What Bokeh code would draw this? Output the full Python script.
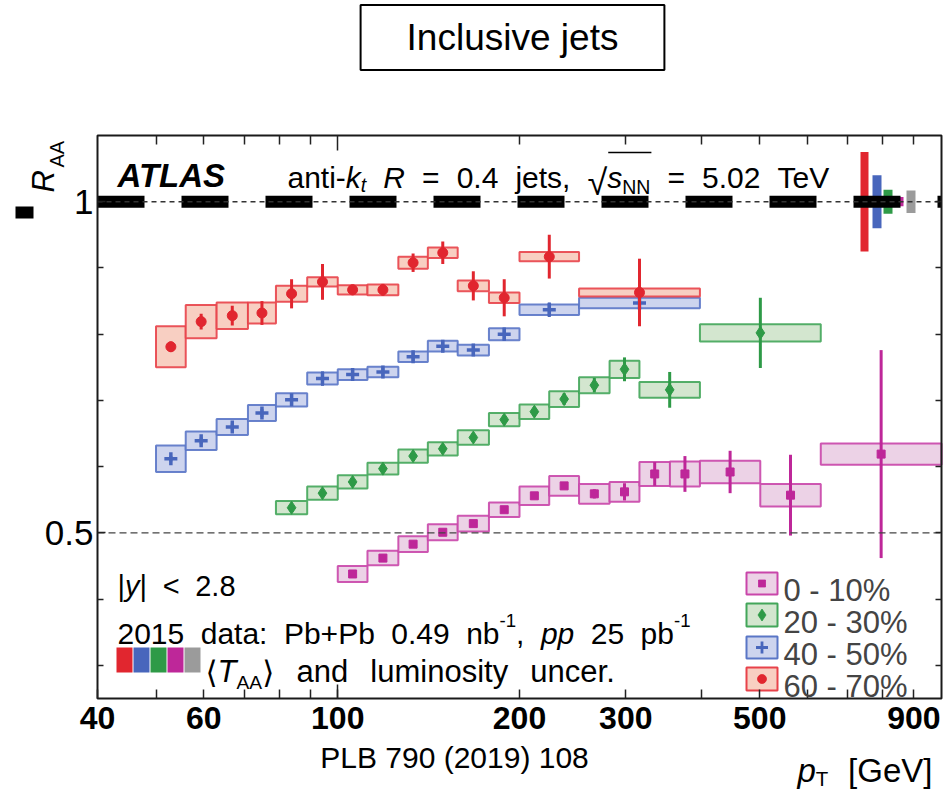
import numpy as np
from bokeh.plotting import figure
from bokeh.models import Range1d, FixedTicker, LogAxis, LinearAxis, Label, PrintfTickFormatter
from bokeh.embed import file_html
from bokeh.resources import INLINE

# ---------------- data ----------------
cent_labels = ["0 - 10%", "20 - 30%", "40 - 50%", "60 - 70%"]

edges_0_10 = [100, 112, 126, 141, 158, 178, 200, 224, 251, 282, 316, 355, 398, 501, 631, 1000]
raa_0_10 = [0.438, 0.462, 0.483, 0.501, 0.514, 0.535, 0.556, 0.571, 0.559, 0.562, 0.589, 0.589, 0.592, 0.557, 0.619]
stat_0_10 = [0.003, 0.003, 0.003, 0.003, 0.003, 0.003, 0.003, 0.004, 0.007, 0.013, 0.018, 0.027, 0.032, 0.061, 0.157]
sys_0_10 = [0.012, 0.011, 0.012, 0.012, 0.012, 0.011, 0.014, 0.015, 0.015, 0.015, 0.018, 0.019, 0.017, 0.017, 0.016]

edges_20_30 = [79, 89, 100, 112, 126, 141, 158, 178, 200, 224, 251, 282, 316, 398, 631]
raa_20_30 = [0.538, 0.560, 0.577, 0.597, 0.616, 0.627, 0.644, 0.671, 0.683, 0.702, 0.723, 0.747, 0.716, 0.802]
stat_20_30 = [0.004, 0.004, 0.004, 0.004, 0.004, 0.005, 0.005, 0.006, 0.007, 0.009, 0.011, 0.018, 0.027, 0.053]
sys_20_30 = [0.010, 0.010, 0.010, 0.009, 0.010, 0.010, 0.011, 0.010, 0.011, 0.012, 0.012, 0.013, 0.012, 0.013]

edges_40_50 = [50, 56, 63, 71, 79, 89, 100, 112, 126, 141, 158, 178, 200, 251, 398]
raa_40_50 = [0.612, 0.639, 0.660, 0.681, 0.701, 0.733, 0.739, 0.743, 0.766, 0.782, 0.776, 0.800, 0.837, 0.847]
stat_40_50 = [0.004, 0.005, 0.005, 0.006, 0.008, 0.011, 0.007, 0.007, 0.007, 0.008, 0.008, 0.010, 0.011, 0.006]
sys_40_50 = [0.020, 0.014, 0.012, 0.012, 0.010, 0.009, 0.008, 0.008, 0.008, 0.008, 0.008, 0.009, 0.008, 0.008]

edges_60_70 = [50, 56, 63, 71, 79, 89, 100, 112, 126, 141, 158, 178, 200, 251, 398]
raa_60_70 = [0.781, 0.819, 0.828, 0.832, 0.861, 0.879, 0.867, 0.867, 0.908, 0.923, 0.873, 0.855, 0.917, 0.863]
stat_60_70 = [0.008, 0.012, 0.015, 0.018, 0.022, 0.027, 0.008, 0.009, 0.014, 0.017, 0.022, 0.028, 0.033, 0.051]
sys_60_70 = [0.031, 0.025, 0.020, 0.016, 0.012, 0.007, 0.007, 0.008, 0.009, 0.008, 0.008, 0.008, 0.007, 0.006]

# <T_AA> and luminosity normalisation uncertainties: 60-70, 40-50, 20-30, 0-10, lumi
norm_unc = [0.075, 0.040, 0.018, 0.007, 0.017]

x_tick_labels = [40, 60, 100, 200, 300, 500, 900]
x_minor_ticks = [50, 70, 80, 90, 400, 600, 700, 800]
x_decade_ticks = [100]
x_top_minor = [50, 60, 70, 80, 90, 200, 300, 400, 500, 600, 700, 800, 900]
y_tick_labels = [0.5, 1]
y_minor_ticks = [0.3, 0.4, 0.6, 0.7, 0.8, 0.9]

# ---------------- styles ----------------
RED = dict(mk="#E1262F", line="#E8424A", fill="#F8CFC2", marker="circle", size=10, lw=1)
BLUE = dict(mk="#4866BC", line="#5A76C6", fill="#CDD4EE", marker="cross", size=13, lw=3.5)
GREEN = dict(mk="#2E9A47", line="#43A65A", fill="#D3E6CF", marker="diamond", size=13, lw=1)
MAG = dict(mk="#BE2799", line="#C946AA", fill="#ECD2E6", marker="square", size=8, lw=1)
GRAY = "#9B9B9B"
FONT = "Liberation Sans"

W, H = 943, 792
FL, FR, FT, FB = 97, 941, 135, 698          # pixel box of the data area
X0, X1 = 40.0, 1000.0
Y0, Y1 = 0.25, 1.1


def dx(px):
    return X0 * 10 ** ((px - FL) / (FR - FL) * np.log10(X1 / X0))


def dy(py):
    return Y0 + (FB - py) / (FB - FT) * (Y1 - Y0)


# the frame covers the whole canvas; axes are pinned to the data box
p = figure(width=W, height=H, x_axis_type="log",
           x_range=Range1d(dx(0), dx(W)), y_range=Range1d(dy(H), dy(0)),
           x_axis_location=None, y_axis_location=None,
           output_backend="svg", toolbar_location=None, min_border=0,
           background_fill_color="white", border_fill_color="white")
p.outline_line_color = None
p.grid.visible = False

TICK = dict(axis_line_color=None, major_tick_out=0, minor_tick_out=0,
            major_tick_line_width=1.5, minor_tick_line_width=1.5,
            major_tick_line_color="#222222", minor_tick_line_color="#222222")

xb = LogAxis(fixed_location=Y0, bounds=(X0, X1),
             ticker=FixedTicker(ticks=x_tick_labels, minor_ticks=x_minor_ticks),
             formatter=PrintfTickFormatter(format="%d"),
             major_label_text_font=FONT, major_label_text_font_size="32px",
             major_label_text_font_style="bold", major_label_text_color="black",
             major_label_standoff=8, major_tick_in=9, minor_tick_in=9, **TICK)
p.add_layout(xb, "below")

# longer decade tick on the bottom edge
xb2 = LogAxis(fixed_location=Y0, bounds=(X0, X1),
              ticker=FixedTicker(ticks=x_decade_ticks, minor_ticks=[]),
              major_label_text_color=None, major_tick_in=14, minor_tick_in=0, **TICK)
p.add_layout(xb2, "below")

xt = LogAxis(fixed_location=Y1, bounds=(X0, X1),
             ticker=FixedTicker(ticks=x_decade_ticks, minor_ticks=x_top_minor),
             major_label_text_color=None, major_tick_in=15, minor_tick_in=9, **TICK)
p.add_layout(xt, "above")

yl = LinearAxis(fixed_location=X0, bounds=(Y0, Y1),
                ticker=FixedTicker(ticks=y_tick_labels, minor_ticks=y_minor_ticks),
                major_label_overrides={0.5: "0.5", 1: "1"},
                major_label_text_font=FONT, major_label_text_font_size="35px",
                major_label_text_color="black", major_label_standoff=4,
                major_tick_in=8, minor_tick_in=6, **TICK)
p.add_layout(yl, "left")

yr = LinearAxis(fixed_location=X1, bounds=(Y0, Y1),
                ticker=FixedTicker(ticks=y_tick_labels, minor_ticks=y_minor_ticks),
                major_label_text_color=None, major_tick_in=6, minor_tick_in=6, **TICK)
p.add_layout(yr, "right")

# ---------------- normalisation uncertainty boxes near unity ----------------
norm_cols = [RED["mk"], BLUE["mk"], GREEN["mk"], MAG["mk"], GRAY]
norm_px = [(860, 868), (872, 881), (883, 892), (894, 903), (906, 915)]
for (a, b), u, c in zip(norm_px, norm_unc, norm_cols):
    p.quad(left=[dx(a)], right=[dx(b)], bottom=[1 - u], top=[1 + u], fill_color=c, line_color=None)


# ---------------- data series ----------------
def draw_series(edges, raa, stat, sys, st):
    lo = np.array(edges[:-1], float)
    hi = np.array(edges[1:], float)
    xc = np.sqrt(lo * hi)
    y = np.array(raa)
    e = np.array(stat)
    s = np.array(sys)
    p.quad(left=lo, right=hi, bottom=y - s, top=y + s, fill_color=st["fill"],
           line_color=st["line"], line_width=2, line_alpha=0.9)
    p.segment(x0=xc, y0=y - e, x1=xc, y1=y + e, line_color=st["mk"], line_width=3)
    p.scatter(xc, y, marker=st["marker"], size=st["size"], fill_color=st["mk"],
              line_color=st["mk"], line_width=st["lw"])


draw_series(edges_0_10, raa_0_10, stat_0_10, sys_0_10, MAG)
draw_series(edges_20_30, raa_20_30, stat_20_30, sys_20_30, GREEN)
draw_series(edges_40_50, raa_40_50, stat_40_50, sys_40_50, BLUE)
draw_series(edges_60_70, raa_60_70, stat_60_70, sys_60_70, RED)

# reference lines at R_AA = 1 and 0.5
p.segment(x0=[X0], y0=[1.0], x1=[X1], y1=[1.0], line_color="black", line_width=12, line_dash="47 37")
p.segment(x0=[X0], y0=[1.0], x1=[X1], y1=[1.0], line_color="#333333", line_width=1.3, line_dash="5 4")
p.segment(x0=[X0], y0=[0.5], x1=[X1], y1=[0.5], line_color="#444444", line_width=1.3, line_dash="7 4")

# ---------------- legend (drawn by hand) ----------------
leg_rows = [(572, 594), (603, 626), (636, 658), (667, 690)]
leg_styles = [MAG, GREEN, BLUE, RED]
for (t, b), st, lab in zip(leg_rows, leg_styles, cent_labels):
    p.quad(left=[dx(746)], right=[dx(777)], bottom=[dy(b)], top=[dy(t)],
           fill_color=st["fill"], line_color=st["line"], line_width=2)
    p.scatter([dx(761.5)], [dy((t + b) / 2)], marker=st["marker"], size=st["size"] - 1,
              fill_color=st["mk"], line_color=st["mk"], line_width=st["lw"] * 0.8)
    p.add_layout(Label(x=dx(783), y=dy(b - 4), text=lab, text_font=FONT,
                       text_font_size="31px", text_baseline="alphabetic"))

# colour squares of the normalisation legend
for i, c in enumerate(norm_cols):
    p.quad(left=[dx(116 + i * 17)], right=[dx(132 + i * 17)], bottom=[dy(672)], top=[dy(647)],
           fill_color=c, line_color=None)

# black marker next to the y axis title
p.quad(left=[dx(15)], right=[dx(33)], bottom=[dy(218)], top=[dy(206)], fill_color="black",
       line_color=None)

# frame of the data box
p.quad(left=[X0], right=[X1], bottom=[Y0], top=[Y1], fill_color=None,
       line_color="#1a1a1a", line_width=2)


# ---------------- texts ----------------
def txt(px, py, s, size, style="normal", font=FONT, align="left", baseline="alphabetic",
        angle=0.0, **kw):
    p.add_layout(Label(x=dx(px), y=dy(py), text=s, text_font=font,
                       text_font_size=f"{size:.1f}px", text_font_style=style,
                       text_align=align, text_baseline=baseline, angle=angle,
                       text_color="black", **kw))


AW = {' ': 278, '-': 333, '.': 278, ',': 278, ':': 278, '=': 584, '+': 584, '<': 584,
      '|': 260, '%': 889, '[': 278, ']': 278, '(': 333, ')': 333, '\u221a': 549,
      '\u27e8': 390, '\u27e9': 390}
AW.update({d: 556 for d in "0123456789"})
AW.update(dict(A=667, B=667, C=722, D=722, E=667, F=611, G=778, H=722, I=278, J=500, K=667,
               L=556, M=833, N=722, O=778, P=667, Q=778, R=722, S=667, T=611, U=722, V=667,
               W=944, X=667, Y=667, Z=611))
AW.update(dict(a=556, b=556, c=500, d=556, e=556, f=278, g=556, h=556, i=222, j=222, k=500,
               l=222, m=833, n=556, o=556, p=556, q=556, r=333, s=500, t=278, u=556, v=500,
               w=722, x=500, y=500, z=500))


def tw(s, size):
    return sum(AW.get(c, 556) for c in s) / 1000.0 * size


def flow(x_start, x_end, base, size, items):
    """Lay out text pieces on one line; None marks a word gap, gaps are stretched to fit."""
    widths = [0 if it is None else tw(it[0], size * it[1]) for it in items]
    n_gap = sum(1 for it in items if it is None)
    gap = (x_end - x_start - sum(widths)) / max(n_gap, 1)
    x = x_start
    starts = []
    for it, w in zip(items, widths):
        starts.append(x)
        if it is None:
            x += gap
            continue
        text, rel, style, shift = it[:4]
        font = it[4] if len(it) > 4 else FONT
        txt(x, base + shift, text, size * rel, style, font)
        x += w
    starts.append(x)
    return starts


# title box
txt(512, 37, "Inclusive jets", 37, align="center", baseline="middle",
    border_line_color="black", border_line_width=2, background_fill_color="white",
    padding=(46, 12))

# y axis title (rotated)
txt(43, 192, "R", 31, style="italic", angle=np.pi / 2)
txt(56, 167, "AA", 20, angle=np.pi / 2)

# header
txt(117, 175, "ATLAS", 33, style="bold italic")
head = [("anti-", 1, "normal", 0), ("k", 1, "italic", 0), ("t", 0.65, "italic", 7), None,
        ("R", 1, "italic", 0), None, ("=", 1, "normal", 0), None, ("0.4", 1, "normal", 0), None,
        ("jets,", 1, "normal", 0), None, ("\u221a", 1.2, "normal", 5), ("s", 1, "italic", 0),
        ("NN", 0.65, "normal", 9), None, ("=", 1, "normal", 0), None, ("5.02", 1, "normal", 0),
        None, ("TeV", 1, "normal", 0)]
hs = flow(287, 832, 177, 30, head)
i_s = 13  # index of "s" under the root; i_s + 2 is where "NN" ends
p.segment(x0=[dx(hs[i_s] + 1)], y0=[dy(152)], x1=[dx(hs[i_s + 2] + 1)],
          y1=[dy(152)], line_color="black", line_width=1.5)

# bottom-left texts
flow(117, 235, 585, 29, [("|", 1, "normal", 0), ("y", 1, "italic", 0), ("|", 1, "normal", 0),
                          None, ("<", 1, "normal", 0), None, ("2.8", 1, "normal", 0)])
flow(117, 690, 633, 30, [("2015", 1, "normal", 0), None, ("data:", 1, "normal", 0), None,
                          ("Pb+Pb", 1, "normal", 0), None, ("0.49", 1, "normal", 0), None,
                          ("nb", 1, "normal", 0), ("-1", 0.62, "normal", -13),
                          (",", 1, "normal", 0), None, ("pp", 1, "italic", 0), None,
                          ("25", 1, "normal", 0), None, ("pb", 1, "normal", 0),
                          ("-1", 0.62, "normal", -13)])
flow(205, 616, 671, 31, [("\u27e8", 1, "normal", 0, "DejaVu Sans"), ("T", 1, "italic", 0),
                          ("AA", 0.62, "normal", 11), ("\u27e9", 1, "normal", 0, "DejaVu Sans"),
                          None, ("and", 1, "normal", 0), None, ("luminosity", 1, "normal", 0),
                          None, ("uncer.", 1, "normal", 0)])

# bottom texts
txt(454, 757, "PLB 790 (2019) 108", 30, align="center")
flow(797, 932, 770, 33, [("p", 1, "italic", 0), ("T", 0.62, "normal", 8), None,
                          ("[GeV]", 1, "normal", 0)])

open("out.html", "w").write(file_html(p, INLINE))
